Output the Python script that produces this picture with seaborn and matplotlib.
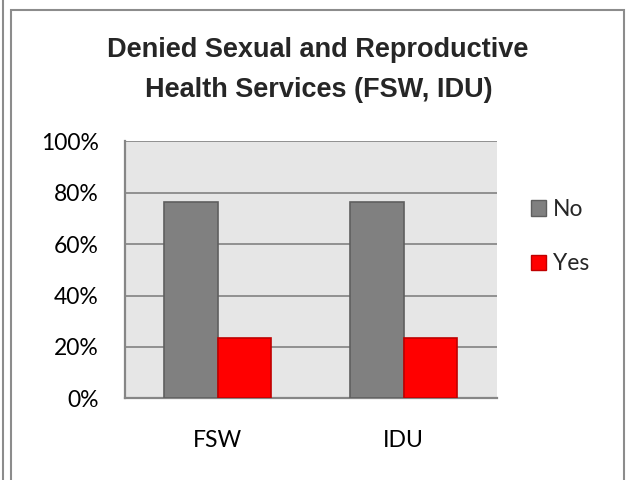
import pandas as pd
import matplotlib.pyplot as plt
import seaborn as sns
from matplotlib.patches import Rectangle, Patch
from matplotlib.lines import Line2D

groups = ['FSW', 'IDU']
answers = ['No', 'Yes']
no_vals = [76.5, 76.5]
yes_vals = [23.4, 23.6]
yticks = [0, 20, 40, 60, 80, 100]
colors = {'No': '#808080', 'Yes': '#FF0000'}
edges = {'No': '#5F5F5F', 'Yes': '#C00000'}

df = pd.DataFrame({
    'group': groups * 2,
    'answer': ['No'] * len(groups) + ['Yes'] * len(groups),
    'pct': no_vals + yes_vals,
})

sns.set_style('white')
plt.rcParams['font.family'] = ['Lato', 'DejaVu Sans']

fig = plt.figure(figsize=(6.29, 4.80), dpi=100)
ax = fig.add_axes([125 / 629, 1 - 398.3 / 480, 371.7 / 629, 257 / 480])
ax.set_facecolor('#E6E6E6')

sns.barplot(data=df, x='group', y='pct', hue='answer', order=groups,
            hue_order=answers, palette=colors, width=0.575, gap=0,
            saturation=1, ax=ax, legend=False, zorder=3)
for cont, a in zip(ax.containers, answers):
    for bar in cont:
        bar.set_edgecolor(edges[a])
        bar.set_linewidth(1.2)

ax.set_ylim(0, 100)
ax.set_xlim(-0.5, 1.5)
ax.set_yticks(yticks)
ax.set_yticklabels([f'{t}%' for t in yticks])
ax.yaxis.grid(True, color='#8A8A8A', linewidth=1.3, zorder=1)
ax.set_axisbelow(True)
ax.tick_params(axis='both', length=0, labelsize=16.5, colors='black')
ax.tick_params(axis='y', pad=19)
ax.tick_params(axis='x', pad=23)
ax.set_xlabel('')
ax.set_ylabel('')
for s in ['top', 'right']:
    ax.spines[s].set_visible(False)
for s in ['left', 'bottom']:
    ax.spines[s].set_color('#868686')
    ax.spines[s].set_linewidth(1.6)

handles = [Patch(facecolor=colors[a], edgecolor=edges[a], label=a) for a in answers]
ax.legend(handles=handles, loc='upper left', bbox_to_anchor=(531 / 629, 1 - 199 / 480),
          bbox_transform=fig.transFigure, frameon=False, fontsize=16.5,
          handlelength=0.65, handleheight=0.65, handletextpad=0.3,
          labelspacing=1.45, borderpad=0, borderaxespad=0)

title_font = ['Liberation Sans', 'DejaVu Sans']
fig.text(317.5 / 629, 1 - 50 / 480, 'Denied Sexual and Reproductive',
         ha='center', va='center', fontsize=19.5, fontweight='bold', family=title_font)
fig.text(319 / 629, 1 - 90 / 480, 'Health Services (FSW, IDU)',
         ha='center', va='center', fontsize=19.5, fontweight='bold', family=title_font)

fig.patches.append(Rectangle((11 / 629, -0.05), 613 / 629, 1.05 - 10 / 480,
                             transform=fig.transFigure, fill=False,
                             edgecolor='#8C8C8C', linewidth=1.5))
fig.lines.append(Line2D([3 / 629, 3 / 629], [0, 1], transform=fig.transFigure,
                        color='#8C8C8C', linewidth=1.5))

fig.savefig('out.png', dpi=100)
